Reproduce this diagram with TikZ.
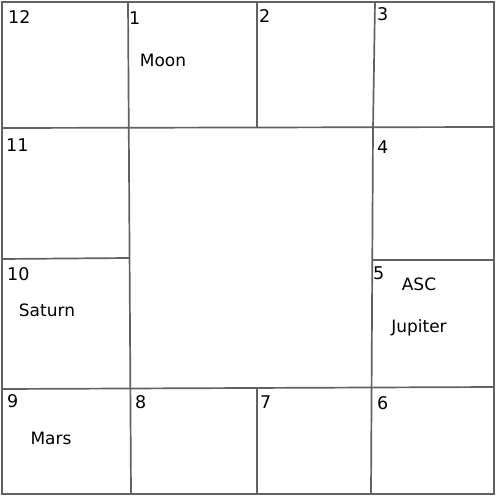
\documentclass[tikz,border=0pt]{standalone}
\usepackage{fontspec}
\setmainfont{DejaVu Sans}
\begin{document}
\begin{tikzpicture}[x=1pt,y=-1pt,
  grid/.style={draw=black!62,line width=1.7pt},
  num/.style={anchor=west,inner sep=0pt,font=\fontsize{17.5}{19}\selectfont},
  planet/.style={inner sep=0pt,font=\fontsize{17}{19}\selectfont}]
\useasboundingbox (0,0) rectangle (500,500);
\fill[white] (0,0) rectangle (500,500);
% outer box
\coordinate (tl) at (2,2); \coordinate (tr) at (494,2);
\coordinate (br) at (494,494); \coordinate (bl) at (2,494);
\draw[grid] (tl) -- (tr) -- (br) -- (bl) -- cycle;
% horizontal lines
\coordinate (h1a) at (2,128); \coordinate (h1b) at (494,127);
\coordinate (h2a) at (2,259); \coordinate (h2b) at (129,258);
\coordinate (h3a) at (372,260); \coordinate (h3b) at (494,260);
\coordinate (h4a) at (2,389); \coordinate (h4b) at (494,387);
\draw[grid] (h1a) -- (h1b);
\draw[grid] (h2a) -- (h2b);
\draw[grid] (h3a) -- (h3b);
\draw[grid] (h4a) -- (h4b);
% vertical lines
\coordinate (v1a) at (128,2); \coordinate (v1b) at (131,494);
\coordinate (v2a) at (257,2); \coordinate (v2b) at (257,128);
\coordinate (v3a) at (257,388); \coordinate (v3b) at (257,494);
\coordinate (v4a) at (375,2); \coordinate (v4b) at (373,128);
\coordinate (v5a) at (373,128); \coordinate (v5b) at (371,494);
\draw[grid] (v1a) -- (v1b);
\draw[grid] (v2a) -- (v2b);
\draw[grid] (v3a) -- (v3b);
\draw[grid] (v4a) -- (v4b);
\draw[grid] (v5a) -- (v5b);
% house numbers
\node[num] (n12) at (8,17) {12};
\node[num] (n1) at (129,18) {1};
\node[num] (n2) at (259,16) {2};
\node[num] (n3) at (377,14) {3};
\node[num] (n11) at (6,145) {11};
\node[num] (n4) at (377,147) {4};
\node[num] (n10) at (7,274) {10};
\node[num] (n5) at (373,273) {5};
\node[num] (n9) at (7,401) {9};
\node[num] (n8) at (135,402) {8};
\node[num] (n7) at (260,402) {7};
\node[num] (n6) at (377,403) {6};
% planets
\node[planet] (moon) at (163,60) {Moon};
\node[planet] (saturn) at (47,310) {Saturn};
\node[planet] (asc) at (419,284) {ASC};
\node[planet] (jupiter) at (419,328) {Jupiter};
\node[planet] (mars) at (51,438) {Mars};
\end{tikzpicture}
\end{document}
